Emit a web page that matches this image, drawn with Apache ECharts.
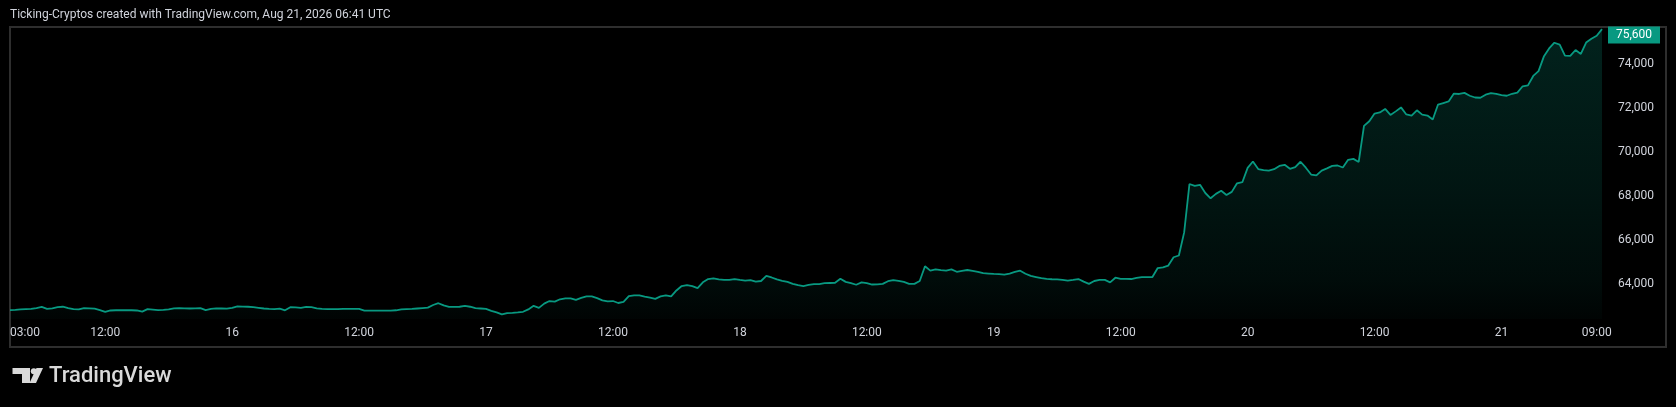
<!DOCTYPE html>
<html><head><meta charset="utf-8">
<script src="https://cdn.jsdelivr.net/npm/echarts@6/dist/echarts.min.js"></script>
<style>html,body{margin:0;padding:0;background:#000;}#c{width:1676px;height:407px;}</style>
</head><body><div id="c"></div>
<script>
const titleText = 'Ticking-Cryptos created with TradingView.com, Aug 21, 2026 06:41 UTC';
const startTime = Date.UTC(2026, 7, 15, 3, 0);
const stepMinutes = 30;
const prices = [
62830,62840,62860,62870,62880,62920,62970,62880,62910,62960,
62980,62920,62870,62860,62920,62910,62890,62830,62750,62810,
62820,62830,62820,62820,62810,62760,62870,62850,62830,62840,
62860,62910,62920,62910,62900,62910,62920,62830,62880,62910,
62900,62890,62930,63000,62990,62980,62960,62930,62900,62880,
62870,62890,62820,62960,62950,62930,62970,62960,62910,62880,
62870,62870,62870,62880,62880,62880,62880,62800,62800,62800,
62800,62800,62800,62820,62860,62870,62880,62900,62920,62940,
63060,63140,63040,62970,62970,62980,63020,62980,62920,62900,
62880,62790,62720,62630,62690,62700,62720,62750,62860,63020,
62930,63120,63240,63210,63320,63360,63360,63290,63380,63450,
63450,63370,63270,63220,63240,63150,63200,63460,63500,63500,
63440,63390,63340,63450,63500,63450,63720,63920,63960,63920,
63830,64090,64240,64270,64220,64200,64200,64240,64200,64170,
64190,64120,64150,64380,64310,64220,64160,64110,64020,63960,
63920,63970,64010,64010,64050,64060,64070,64250,64110,64050,
63980,64090,64050,63990,64000,64020,64140,64190,64160,64110,
64020,64020,64150,64820,64620,64680,64640,64620,64680,64570,
64610,64650,64610,64570,64510,64490,64470,64460,64440,64490,
64560,64620,64480,64380,64330,64280,64250,64230,64220,64200,
64170,64200,64240,64120,64020,64150,64200,64200,64090,64300,
64250,64250,64240,64290,64330,64330,64330,64740,64770,64850,
65230,65310,66360,68560,68470,68520,68150,67910,68110,68250,
68060,68200,68590,68640,69290,69580,69240,69190,69170,69230,
69380,69430,69250,69330,69570,69300,68990,68950,69170,69270,
69380,69400,69310,69660,69700,69560,71200,71410,71760,71810,
71970,71700,71860,72040,71720,71670,71910,71710,71670,71490,
72170,72240,72310,72670,72650,72700,72570,72490,72480,72620,
72690,72660,72600,72570,72660,72710,73000,73040,73470,73690,
74350,74720,74980,74890,74390,74380,74650,74470,74990,75160,
75300,75600
];
const tickTimes  = ['15 03:00','15 12:00','16 00:00','16 12:00','17 00:00','17 12:00','18 00:00','18 12:00','19 00:00','19 12:00','20 00:00','20 12:00','21 00:00','21 09:00'];
const tickLabels = ['03:00','12:00','16','12:00','17','12:00','18','12:00','19','12:00','20','12:00','21','09:00'];
const yTicks = [64000, 66000, 68000, 70000, 72000, 74000];
const lastPrice = 75600;

const pad = n => String(n).padStart(2, '0');
const categories = prices.map((_, i) => {
  const d = new Date(startTime + i * stepMinutes * 60000);
  return pad(d.getUTCDate()) + ' ' + pad(d.getUTCHours()) + ':' + pad(d.getUTCMinutes());
});
const fmt = v => Number(v).toLocaleString('en-US');
const textColor = '#d1d4dc';
const green = '#089981';

const chart = echarts.init(document.getElementById('c'), null, {renderer: 'canvas'});
chart.setOption({
  backgroundColor: '#000000',
  animation: false,
  textStyle: {fontFamily: 'Roboto, "Liberation Sans", sans-serif'},
  grid: {left: 10, right: 74, top: 27, bottom: 88, containLabel: false},
  xAxis: {
    type: 'category',
    boundaryGap: false,
    data: categories,
    axisLine: {show: false},
    axisTick: {show: false},
    splitLine: {show: false},
    axisLabel: {
      interval: (i, v) => tickTimes.indexOf(v) >= 0,
      formatter: v => tickLabels[tickTimes.indexOf(v)],
      color: textColor,
      fontSize: 12,
      margin: 8,
      alignMinLabel: 'left',
      hideOverlap: false
    }
  },
  yAxis: {
    type: 'value',
    position: 'right',
    min: 62423,
    max: 75695,
    axisLine: {show: false},
    axisTick: {show: false},
    splitLine: {show: false},
    axisLabel: {
      customValues: yTicks,
      formatter: v => fmt(v),
      color: textColor,
      fontSize: 12,
      margin: 16
    }
  },
  series: [{
    type: 'line',
    data: prices,
    showSymbol: false,
    symbol: 'none',
    lineStyle: {color: green, width: 1.8},
    itemStyle: {color: green},
    areaStyle: {
      color: new echarts.graphic.LinearGradient(0, 0, 0, 1, [
        {offset: 0, color: 'rgba(8,153,129,0.32)'},
        {offset: 0.55, color: 'rgba(8,153,129,0.2)'},
        {offset: 0.87, color: 'rgba(8,153,129,0.11)'},
        {offset: 1, color: 'rgba(8,153,129,0.04)'}
      ])
    },
    markPoint: {
      silent: true,
      symbol: 'rect',
      symbolSize: [52, 17],
      symbolOffset: [32, 6],
      itemStyle: {color: green},
      label: {show: true, position: 'inside', color: '#ffffff', fontSize: 12, formatter: fmt(lastPrice)},
      data: [{coord: [categories[categories.length - 1], lastPrice]}]
    }
  }],
  graphic: [
    {type: 'rect', silent: true, shape: {x: 10, y: 27, width: 1656, height: 320},
     style: {fill: 'none', stroke: '#2e2e2e', lineWidth: 2}},
    {type: 'text', silent: true, x: 10, y: 15,
     style: {text: titleText, fill: textColor, font: '12px Roboto, "Liberation Sans", sans-serif', verticalAlign: 'middle'}},
    {type: 'rect', silent: true, shape: {x: 12.5, y: 368, width: 17.5, height: 6}, style: {fill: '#d9d9d9'}},
    {type: 'rect', silent: true, shape: {x: 22, y: 368, width: 8, height: 15}, style: {fill: '#d9d9d9'}},
    {type: 'circle', silent: true, shape: {cx: 33.8, cy: 371.2, r: 3}, style: {fill: '#d9d9d9'}},
    {type: 'polygon', silent: true, shape: {points: [[36.5, 368], [43, 368], [36, 383], [29.5, 383]]}, style: {fill: '#d9d9d9'}},
    {type: 'text', silent: true, x: 49, y: 376.5,
     style: {text: 'TradingView', fill: '#d9d9d9', font: '500 22px Roboto, "Liberation Sans", sans-serif', verticalAlign: 'middle'}}
  ]
});
</script>
</body></html>
